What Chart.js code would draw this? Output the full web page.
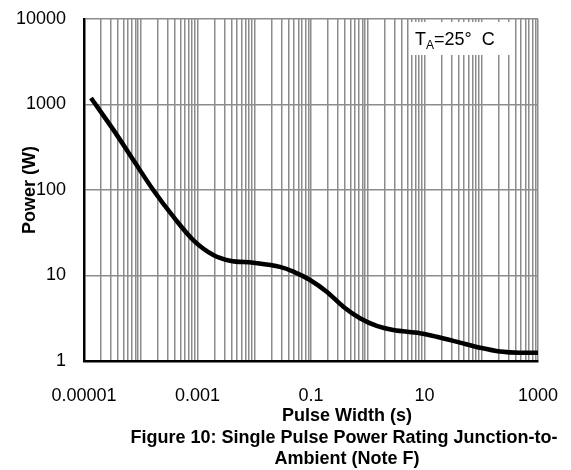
<!DOCTYPE html>
<html>
<head>
<meta charset="utf-8">
<script src="https://cdn.jsdelivr.net/npm/chart.js@4/dist/chart.umd.min.js"></script>
<style>
  html, body { margin: 0; padding: 0; background: #fff; }
  #wrap { width: 571px; height: 470px; }
</style>
</head>
<body>
<div id="wrap"><canvas id="chartPulse" width="571" height="470"></canvas></div>
<script>
// data
const pulseWidth = [1.33e-5, 3.3e-5, 7.4e-5, 1.66e-4, 3.75e-4, 8.4e-4, 1.9e-3, 3.74e-3, 9.6e-3,
  0.0284, 0.0488, 0.096, 0.189, 0.371, 0.73, 1.44, 2.82, 8.3, 16.4, 42.3, 95, 214, 482, 1000];
const power = [1190, 505, 224, 100, 48.7, 26, 17.4, 14.9, 14.1,
  12.6, 11.1, 8.86, 6.47, 4.32, 3.16, 2.57, 2.30, 2.11, 1.92, 1.64, 1.43, 1.29, 1.25, 1.25];

const xDecades = [1e-5, 1e-4, 1e-3, 1e-2, 1e-1, 1, 10, 100, 1000];
const xTickLabels = ['0.00001', '0.001', '0.1', '10', '1000'];
const yDecades = [1, 10, 100, 1000, 10000];
const yTickLabels = ['1', '10', '100', '1000', '10000'];

const FONT = "'Liberation Sans', Arial, sans-serif";
const GRID = '#8c8c8c';

// log ticks: decades plus 2..9 in between
function xTicks() {
  const t = [];
  xDecades.forEach((d, i) => {
    t.push({ value: d });
    if (i < xDecades.length - 1) {
      for (let m = 2; m <= 9; m++) t.push({ value: +(d * m).toPrecision(3) });
    }
  });
  return t;
}

function labelFor(v, labels) {
  const s = labels.find(l => Math.abs(Math.log10(parseFloat(l)) - Math.log10(v)) < 1e-6);
  return s || '';
}

const textPlugin = {
  id: 'textPlugin',
  beforeDatasetsDraw(chart) {
    const ctx = chart.ctx;
    ctx.save();
    ctx.fillStyle = '#fff';
    ctx.fillRect(409, 22, 106, 33);
    ctx.fillStyle = '#000';
    ctx.font = '18px ' + FONT;
    ctx.textBaseline = 'alphabetic';
    ctx.textAlign = 'left';
    let x = 415;
    ctx.fillText('T', x, 45);
    x += ctx.measureText('T').width;
    ctx.font = '12px ' + FONT;
    ctx.fillText('A', x, 49);
    x += ctx.measureText('A').width;
    ctx.font = '18px ' + FONT;
    ctx.fillText('=25\u00b0  C', x, 45);
    ctx.restore();
  },
  afterDraw(chart) {
    const ctx = chart.ctx;
    ctx.save();
    ctx.fillStyle = '#000';
    ctx.font = 'bold 18px ' + FONT;
    ctx.textAlign = 'center';
    ctx.textBaseline = 'middle';
    ctx.fillText('Pulse Width (s)', 347, 416);
    ctx.fillText('Figure 10: Single Pulse Power Rating Junction-to-', 344, 438);
    ctx.fillText('Ambient (Note F)', 347, 459);
    ctx.translate(30, 190);
    ctx.rotate(-Math.PI / 2);
    ctx.fillText('Power (W)', 0, 0);
    ctx.restore();
  }
};

new Chart(document.getElementById('chartPulse'), {
  type: 'line',
  data: {
    datasets: [{
      data: pulseWidth.map((x, i) => ({ x: x, y: power[i] })),
      borderColor: '#000',
      borderWidth: 4.5,
      pointRadius: 0,
      fill: false,
      cubicInterpolationMode: 'monotone'
    }]
  },
  options: {
    responsive: false,
    animation: false,
    events: [],
    layout: { padding: { left: 0, top: 19, right: 33, bottom: 69 } },
    plugins: { legend: { display: false }, tooltip: { enabled: false } },
    scales: {
      x: {
        type: 'logarithmic',
        min: 1e-5,
        max: 1000,
        afterBuildTicks: s => { s.ticks = xTicks(); },
        afterFit: s => { s.height = 40; s.paddingLeft = 0; s.paddingRight = 0; },
        grid: { color: GRID, lineWidth: 1.5, drawTicks: false },
        border: { color: '#000', width: 2.5 },
        ticks: {
          autoSkip: false,
          maxRotation: 0,
          padding: 24,
          color: '#000',
          font: { family: FONT, size: 18 },
          callback: v => labelFor(v, xTickLabels)
        }
      },
      y: {
        type: 'logarithmic',
        min: 1,
        max: 10000,
        afterBuildTicks: s => { s.ticks = yDecades.map(v => ({ value: v })); },
        afterFit: s => { s.width = 84; s.paddingTop = 0; s.paddingBottom = 0; },
        grid: { color: GRID, lineWidth: 1.5, drawTicks: false },
        border: { color: '#000', width: 2.5 },
        ticks: {
          padding: 18,
          color: '#000',
          font: { family: FONT, size: 18 },
          callback: v => labelFor(v, yTickLabels)
        }
      }
    }
  },
  plugins: [textPlugin]
});
</script>
</body>
</html>
